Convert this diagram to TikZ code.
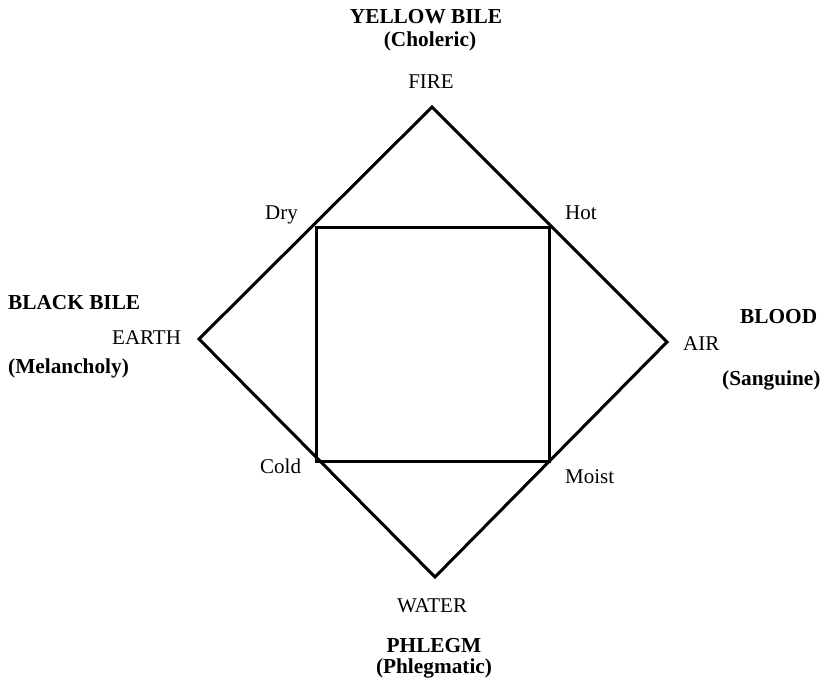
\documentclass[tikz,border=0pt]{standalone}
\usepackage{fontspec}
\setmainfont{Liberation Serif}
\usetikzlibrary{calc}
\begin{document}
\begin{tikzpicture}[x=1pt,y=-1pt,
  edge/.style={line width=3pt,line join=miter,line cap=rect},
  elem/.style={font=\fontsize{21}{25}\selectfont,inner sep=0pt},
  hum/.style={font=\fontsize{21.3}{25}\selectfont\bfseries,inner sep=0pt},
  qual/.style={font=\fontsize{21}{25}\selectfont,inner sep=0pt,anchor=base west}]
\useasboundingbox (0,0) rectangle (821,681);
% diamond vertices
\coordinate (fire) at (432,107);
\coordinate (earth) at (199,339);
\coordinate (air) at (667,342);
\coordinate (water) at (435,577);
% inner square corners (quality points)
\coordinate (dryc) at (316,227);
\coordinate (hotc) at (549,227);
\coordinate (coldc) at (316,461);
\coordinate (moistc) at (549,461);
\draw[edge] (fire) -- (air) -- (water) -- (earth) -- cycle;
\draw[edge] (dryc) -- (hotc) -- (moistc) -- (coldc) -- cycle;
% top
\node[hum,anchor=base] (yb) at (426,23) {YELLOW BILE};
\node[hum,anchor=base] (ch) at (430,46) {(Choleric)};
\node[elem,anchor=base] (firel) at (431,88) {FIRE};
% left
\node[hum,anchor=base west] (bb) at (8,309) {BLACK BILE};
\node[elem,anchor=base west] (earthl) at (112,344) {EARTH};
\node[hum,anchor=base west] (mel) at (8,373) {(Melancholy)};
% right
\node[hum,anchor=base west] (blood) at (740,323) {BLOOD};
\node[elem,anchor=base west] (airl) at (683,350) {AIR};
\node[hum,anchor=base west] (san) at (722,385) {(Sanguine)};
% bottom
\node[elem,anchor=base] (waterl) at (432,612) {WATER};
\node[hum,anchor=base] (phl) at (434,652) {PHLEGM};
\node[hum,anchor=base] (phm) at (434,673) {(Phlegmatic)};
% qualities
\node[qual] (dry) at (265,219) {Dry};
\node[qual] (hot) at (565,219) {Hot};
\node[qual] (cold) at (260,473) {Cold};
\node[qual] (moist) at (565,483) {Moist};
\end{tikzpicture}
\end{document}
